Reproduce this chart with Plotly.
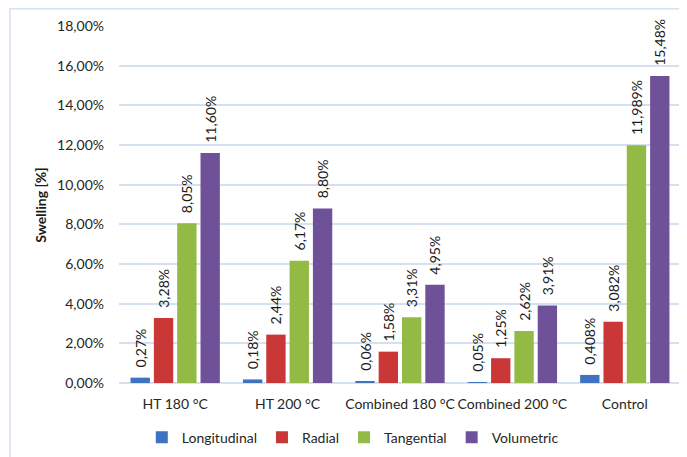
import plotly.graph_objects as go

categories = ["HT 180 °C", "HT 200 °C", "Combined 180 °C", "Combined 200 °C", "Control"]
longitudinal = [0.27, 0.18, 0.06, 0.05, 0.408]
radial = [3.28, 2.44, 1.58, 1.25, 3.082]
tangential = [8.05, 6.17, 3.31, 2.62, 11.989]
volumetric = [11.60, 8.80, 4.95, 3.91, 15.48]
series_names = ["Longitudinal", "Radial", "Tangential", "Volumetric"]
series_values = [longitudinal, radial, tangential, volumetric]
colors = ["#3F72C0", "#C93836", "#93BA45", "#6F519A"]


def fmt(v):
    s = repr(float(v))
    dec = max(2, len(s.split(".")[1].rstrip("0")) if "." in s else 2)
    return "\u00a0\u00a0" + f"{v:.{dec}f}".replace(".", ",") + "%"


fig = go.Figure()
for name, vals, col in zip(series_names, series_values, colors):
    fig.add_trace(go.Bar(
        x=categories,
        y=[v / 100 for v in vals],
        name=name,
        marker=dict(color=col, line=dict(width=0)),
        text=[fmt(v) for v in vals],
        textposition="outside",
        textangle=-90,
        cliponaxis=False,
        textfont=dict(family="Lato", size=14, color="#1a1a1a"),
        hoverinfo="skip",
    ))

fig.update_layout(
    width=679, height=449,
    margin=dict(l=111, r=6, t=18, b=73.5, autoexpand=False),
    paper_bgcolor="white", plot_bgcolor="white",
    font=dict(family="Lato", size=14, color="#262626"),
    separators=",.",
    barmode="group", bargap=0.17, bargroupgap=0.17,
    uniformtext=dict(minsize=14, mode="show"),
    legend=dict(orientation="h", x=0.416, xanchor="center", y=-0.153, yanchor="middle",
                font=dict(size=14), traceorder="normal", itemwidth=30),
    showlegend=True,
    shapes=[dict(type="rect", xref="paper", yref="paper",
                 x0=-0.194, x1=1.2, y0=-0.5, y1=1.048,
                 line=dict(color="#D5E1F0", width=1.5), layer="below")],
    annotations=[dict(text="<b>Swelling [%]</b>", textangle=-90, xref="paper", yref="paper",
                      x=-0.14, y=0.5, xanchor="center", yanchor="middle", showarrow=False,
                      font=dict(size=14, color="#1a1a1a"))],
)
fig.update_xaxes(showgrid=False, showline=False, ticks="", tickfont=dict(size=14),
                 automargin=False, ticklabelstandoff=11)
fig.update_yaxes(range=[0, 0.18], dtick=0.02, tickformat=".2%", showgrid=True,
                 gridcolor="#D5E1F0", gridwidth=1.5, zeroline=True, zerolinecolor="#D5E1F0",
                 zerolinewidth=1.5, ticklabelstandoff=14, tickfont=dict(size=14), automargin=False)

fig.write_html("out.html")
